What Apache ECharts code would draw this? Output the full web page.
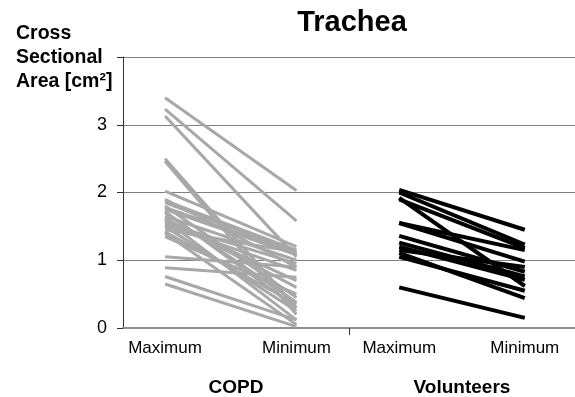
<!DOCTYPE html>
<html><head><meta charset="utf-8">
<script src="https://cdn.jsdelivr.net/npm/echarts@6/dist/echarts.min.js"></script>
<style>html,body{margin:0;padding:0;background:#fff}#c{width:575px;height:397px}</style>
</head><body><div id="c"></div>
<script>
const chartTitle = 'Trachea';
const yAxisTitle = 'Cross\nSectional\nArea [cm²]';
const groups = ['COPD', 'Volunteers'];
const phases = ['Maximum', 'Minimum'];
const yTickLabels = ['0', '1', '2', '3'];

// COPD patients: cross sectional area at maximum and minimum
const copdMax = [3.40, 3.23, 3.13, 2.50, 2.46, 2.02, 1.90, 1.88, 1.85, 1.80, 1.78, 1.75, 1.72, 1.70, 1.65, 1.62, 1.60, 1.58, 1.55, 1.52, 1.50, 1.45, 1.42, 1.40, 1.35, 1.05, 0.89, 0.76, 0.65];
const copdMin = [2.03, 1.58, 1.05, 0.30, 0.20, 1.20, 0.90, 1.15, 1.12, 0.45, 1.10, 1.08, 0.30, 0.38, 1.00, 0.60, 0.12, 0.70, 0.95, 0.85, 0.25, 1.12, 0.35, 0.05, 0.50, 0.90, 0.75, 0.12, 0.02];

// Volunteers
const volMax = [2.04, 2.00, 1.92, 1.90, 1.55, 1.55, 1.36, 1.26, 1.20, 1.15, 1.11, 1.05, 0.60];
const volMin = [1.45, 1.23, 0.62, 1.18, 1.15, 0.98, 0.83, 0.76, 0.71, 0.90, 0.44, 0.55, 0.15];

const font = '"Liberation Sans", Arial, Helvetica, sans-serif';
const xRange = [[-0.32, 1.40], [-0.40, 1.40]];

function xAxisFor(i) {
  return {
    type: 'value', gridIndex: i, min: xRange[i][0], max: xRange[i][1],
    name: groups[i], nameLocation: 'middle', nameGap: 50,
    nameTextStyle: { fontFamily: font, fontWeight: 'bold', fontSize: 19, color: '#000' },
    axisLine: { show: true, onZero: false, lineStyle: { color: '#8c8c8c', width: 2 } },
    axisTick: { show: i === 0, customValues: [xRange[0][1]], length: 7, lineStyle: { color: '#333', width: 1 } },
    axisLabel: {
      show: true, customValues: [0, 1], margin: 12,
      formatter: v => phases[Math.round(v)],
      fontFamily: font, fontSize: 17, color: '#000'
    },
    splitLine: { show: false }
  };
}
function yAxisFor(i) {
  return {
    type: 'value', gridIndex: i, min: 0, max: 4, interval: 1,
    axisLine: { show: i === 0, onZero: false, lineStyle: { color: '#333', width: 1 } },
    axisTick: { show: i === 0, length: 6, lineStyle: { color: '#333' } },
    axisLabel: {
      show: i === 0, margin: 16, fontFamily: font, fontSize: 18, color: '#000',
      formatter: v => (yTickLabels[v] !== undefined ? yTickLabels[v] : '')
    },
    splitLine: { show: true, lineStyle: { color: '#808080', width: 1 } }
  };
}

const series = [];
copdMax.forEach((v, i) => series.push({
  type: 'line', xAxisIndex: 0, yAxisIndex: 0, symbol: 'none', silent: true,
  data: [[0, v], [1, copdMin[i]]],
  lineStyle: { color: '#a8a8a8', width: 3 }
}));
volMax.forEach((v, i) => series.push({
  type: 'line', xAxisIndex: 1, yAxisIndex: 1, symbol: 'none', silent: true,
  data: [[0, v], [1, volMin[i]]],
  lineStyle: { color: '#000', width: 4 }
}));

const chart = echarts.init(document.getElementById('c'), null, { renderer: 'canvas' });
chart.setOption({
  animation: false,
  backgroundColor: '#fff',
  title: {
    text: chartTitle, left: 347, top: 3, textAlign: 'center',
    textStyle: { fontFamily: font, fontWeight: 'bold', fontSize: 29, color: '#000' }
  },
  graphic: [{
    type: 'text', left: 16, top: 22,
    style: { text: yAxisTitle, font: 'bold 19.5px ' + font, lineHeight: 24, fill: '#000' }
  }],
  grid: [
    { left: 123, top: 57, width: 226, height: 271, outerBoundsMode: 'none', containLabel: false },
    { left: 349, top: 57, width: 226, height: 271, outerBoundsMode: 'none', containLabel: false }
  ],
  xAxis: [xAxisFor(0), xAxisFor(1)],
  yAxis: [yAxisFor(0), yAxisFor(1)],
  series: series
});
</script></body></html>
